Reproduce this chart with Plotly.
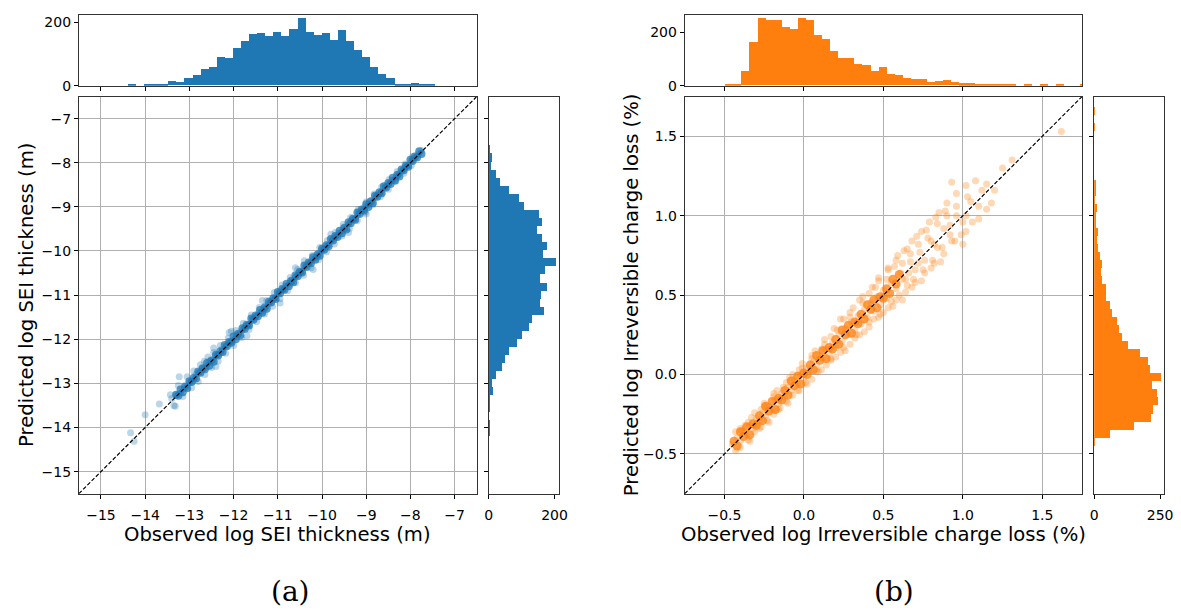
import plotly.graph_objects as go

W, H = 1181, 613
BLUE = '#1f77b4'
ORANGE = '#ff7f0e'

# ---------------- data: panel (a) SEI thickness ----------------
# dense core of the cloud
core_obs_a = [-13.30, -13.25, -13.20, -13.15, -13.10, -13.05, -13.00, -12.95, -12.90, -12.85,
              -12.80, -12.75, -12.70, -12.65, -12.60, -12.55, -12.50, -12.45, -12.40, -12.35,
              -12.30, -12.25, -12.20, -12.15, -12.10, -12.05, -12.00, -11.95, -11.90, -11.85,
              -11.80, -11.75, -11.70, -11.65, -11.60, -11.55, -11.50, -11.45, -11.40, -11.35,
              -11.30, -11.25, -11.20, -11.15, -11.10, -11.05, -11.00, -10.95, -10.90, -10.85,
              -10.80, -10.75, -10.70, -10.65, -10.60, -10.55, -10.50, -10.45, -10.40, -10.35,
              -10.30, -10.25, -10.20, -10.15, -10.10, -10.05, -10.00, -9.95, -9.90, -9.85,
              -9.80, -9.75, -9.70, -9.65, -9.60, -9.55, -9.50, -9.45, -9.40, -9.35,
              -9.30, -9.25, -9.20, -9.15, -9.10, -9.05, -9.00, -8.95, -8.90, -8.85,
              -8.80, -8.75, -8.70, -8.65, -8.60, -8.55, -8.50, -8.45, -8.40, -8.35,
              -8.30, -8.25, -8.20, -8.15, -8.10, -8.05, -8.00, -7.95, -7.90, -7.85,
              -7.80, -7.75]
core_pred_a = [-13.26, -13.28, -13.14, -13.20, -13.08, -13.11, -12.95, -12.97, -12.87, -12.89,
               -12.73, -12.76, -12.66, -12.68, -12.54, -12.60, -12.48, -12.51, -12.35, -12.37,
               -12.27, -12.29, -12.13, -12.16, -12.06, -12.08, -11.94, -12.00, -11.88, -11.91,
               -11.75, -11.77, -11.67, -11.69, -11.53, -11.56, -11.46, -11.48, -11.34, -11.40,
               -11.28, -11.31, -11.15, -11.17, -11.07, -11.09, -10.93, -10.96, -10.86, -10.88,
               -10.74, -10.80, -10.68, -10.71, -10.55, -10.57, -10.47, -10.49, -10.33, -10.36,
               -10.26, -10.28, -10.14, -10.20, -10.08, -10.11, -9.95, -9.97, -9.87, -9.89,
               -9.73, -9.76, -9.66, -9.68, -9.54, -9.60, -9.48, -9.51, -9.35, -9.37,
               -9.27, -9.29, -9.13, -9.16, -9.06, -9.08, -8.94, -9.00, -8.88, -8.91,
               -8.75, -8.77, -8.67, -8.69, -8.53, -8.56, -8.46, -8.48, -8.34, -8.40,
               -8.28, -8.31, -8.15, -8.17, -8.07, -8.09, -7.93, -7.96, -7.86, -7.88,
               -7.74, -7.80]
# wider halo and outliers
obs_a = [-13.40, -13.30, -13.20, -13.10, -13.00, -12.92, -12.85, -12.78, -12.70, -12.62,
         -12.55, -12.48, -12.40, -12.33, -12.26, -12.18, -12.10, -12.03, -11.95, -11.88,
         -11.80, -11.73, -11.66, -11.58, -11.50, -11.43, -11.36, -11.28, -11.20, -11.13,
         -11.05, -10.98, -10.90, -10.83, -10.75, -10.68, -10.60, -10.53, -10.45, -10.38,
         -10.30, -10.23, -10.15, -10.08, -10.00, -9.93, -9.85, -9.78, -9.70, -9.63,
         -9.55, -9.48, -9.40, -9.33, -9.25, -9.18, -9.10, -9.03, -8.95, -8.88,
         -8.80, -8.72, -8.65, -8.57, -8.50, -8.42, -8.35, -8.27, -8.20, -8.12,
         -8.05, -7.97, -7.90, -7.82, -7.75,
         -13.25, -13.05, -12.90, -12.75, -12.58, -12.45, -12.30, -12.12, -11.95, -11.78,
         -11.60, -11.42, -11.25, -11.08, -10.90, -10.72, -10.55, -10.40, -10.22, -10.05,
         -9.88, -9.70, -9.52, -9.35, -9.18, -9.00, -8.82, -8.65, -8.48, -8.30, -8.12, -7.95,
         -13.35, -13.15, -12.95, -12.80, -12.65, -12.50, -12.35, -12.18, -12.00, -11.82,
         -11.65, -11.48, -11.30, -11.12, -10.95, -10.78, -10.60, -10.42, -10.25, -10.08,
         -9.90, -9.72, -9.55, -9.38, -9.20, -9.02, -8.85, -8.68, -8.50, -8.33, -8.15, -7.98,
         -14.33, -14.25, -14.00, -13.68, -13.43, -13.32, -13.23, -12.66, -12.45, -12.10,
         -12.40, -12.05, -11.70, -11.35, -10.95, -10.60, -10.20, -9.80, -9.40, -9.00]
pred_a = [-13.35, -13.26, -13.22, -13.05, -12.98, -12.95, -12.80, -12.76, -12.66, -12.64,
          -12.50, -12.47, -12.36, -12.35, -12.22, -12.17, -12.07, -12.04, -11.92, -11.86,
          -11.79, -11.70, -11.67, -11.55, -11.49, -11.40, -11.37, -11.25, -11.19, -11.10,
          -11.06, -10.95, -10.89, -10.80, -10.76, -10.65, -10.59, -10.50, -10.46, -10.35,
          -10.29, -10.20, -10.16, -10.05, -9.99, -9.90, -9.86, -9.75, -9.69, -9.60,
          -9.56, -9.45, -9.39, -9.30, -9.26, -9.15, -9.09, -9.00, -8.96, -8.85,
          -8.79, -8.70, -8.66, -8.55, -8.49, -8.40, -8.36, -8.25, -8.19, -8.10,
          -8.06, -7.95, -7.89, -7.80, -7.72,
          -13.05, -12.85, -12.72, -12.58, -12.40, -12.30, -12.14, -11.97, -11.80, -11.64,
          -11.45, -11.28, -11.12, -10.94, -10.77, -10.60, -10.42, -10.22, -10.10, -9.92,
          -9.76, -9.58, -9.40, -9.24, -9.06, -8.89, -8.71, -8.55, -8.38, -8.20, -8.03, -7.86,
          -13.50, -13.30, -13.10, -12.96, -12.80, -12.64, -12.50, -12.32, -12.14, -11.96,
          -11.78, -11.60, -11.43, -11.25, -11.08, -10.90, -10.72, -10.55, -10.38, -10.20,
          -10.02, -9.84, -9.66, -9.49, -9.31, -9.12, -8.95, -8.77, -8.60, -8.42, -8.24, -8.06,
          -14.12, -14.31, -13.71, -13.47, -13.26, -13.52, -12.85, -12.50, -12.20, -11.85,
          -12.62, -11.82, -11.92, -11.12, -11.18, -10.38, -10.42, -9.62, -9.58, -9.16]

# histogram of observed (a): first bin edge, bin width, counts
obs_a_start, a_width = -14.395, 0.1828
obs_a_counts = [1, 0, 1, 1, 1, 12, 9, 22, 33, 52, 56, 90, 87, 118, 139, 162, 165, 155, 168, 155,
                177, 211, 168, 160, 165, 143, 174, 140, 112, 90, 59, 34, 22, 2, 2, 6, 2, 2]
# histogram of predicted (a)
pred_a_start = -14.178
pred_a_counts = [2, 2, 0, 1, 1, 12, 9, 21, 39, 48, 60, 84, 99, 120, 129, 168, 156, 159, 177, 156,
                 171, 204, 165, 177, 162, 146, 162, 153, 105, 90, 60, 33, 21, 4, 9, 3]

# ---------------- data: panel (b) irreversible charge loss ----------------
core_obs_b = [-0.44, -0.42, -0.40, -0.38, -0.36, -0.34, -0.32, -0.30, -0.28, -0.26,
              -0.24, -0.22, -0.20, -0.18, -0.16, -0.14, -0.12, -0.10, -0.08, -0.06,
              -0.04, -0.02, 0.00, 0.02, 0.04, 0.06, 0.08, 0.10, 0.12, 0.14,
              0.16, 0.18, 0.20, 0.22, 0.24, 0.26, 0.28, 0.30, 0.32, 0.34,
              0.36, 0.38, 0.40, 0.42, 0.44, 0.46, 0.48, 0.50, 0.52, 0.54,
              0.56, 0.58, 0.60]
core_pred_b = [-0.42, -0.45, -0.36, -0.39, -0.33, -0.38, -0.31, -0.32, -0.26, -0.29,
               -0.20, -0.23, -0.17, -0.22, -0.15, -0.16, -0.10, -0.13, -0.04, -0.07,
               -0.01, -0.06, 0.01, 0.00, 0.06, 0.03, 0.12, 0.09, 0.15, 0.10,
               0.17, 0.16, 0.22, 0.19, 0.28, 0.25, 0.31, 0.26, 0.33, 0.32,
               0.38, 0.35, 0.44, 0.41, 0.47, 0.42, 0.49, 0.48, 0.54, 0.51,
               0.60, 0.57, 0.63]
obs_b = [-0.45, -0.42, -0.40, -0.38, -0.36, -0.34, -0.32, -0.30, -0.28, -0.26,
         -0.24, -0.22, -0.20, -0.18, -0.16, -0.14, -0.12, -0.10, -0.08, -0.06,
         -0.04, -0.02, 0.00, 0.02, 0.04, 0.06, 0.08, 0.10, 0.12, 0.14,
         0.16, 0.18, 0.20, 0.22, 0.24, 0.26, 0.28, 0.30, 0.32, 0.34,
         0.36, 0.38, 0.40, 0.42, 0.44, 0.46, 0.48, 0.50, 0.52, 0.55,
         0.58, 0.61, 0.64, 0.67, 0.70, 0.73, 0.76, 0.80, 0.84, 0.88,
         0.92, 0.96, 1.00, 1.05, 1.10, 1.15, 1.20,
         -0.40, -0.33, -0.25, -0.17, -0.09, -0.01, 0.07, 0.13, 0.19, 0.25,
         0.31, 0.37, 0.43, 0.47, 0.53, 0.58, 0.63, 0.68, 0.74, 0.79,
         0.85, 0.90, 0.96, 1.02, 0.93, 1.08, 1.31, 1.62, 1.25,
         -0.43, -0.35, -0.27, -0.19, -0.11, -0.03, 0.05, 0.11, 0.17, 0.23,
         0.29, 0.35, 0.41, 0.47, 0.53, 0.58, 0.64, 0.70, 0.76, 0.82,
         0.88, 0.95, 1.02, 1.10, 1.18, 1.00,
         -0.43, -0.40, -0.37, -0.34, -0.31, -0.28, -0.25, -0.22, -0.19, -0.16,
         -0.13, -0.10, -0.07, -0.04, -0.01, 0.02, 0.05, 0.08, 0.11, 0.14,
         0.17, 0.20, 0.23, 0.26, 0.29, 0.32, 0.35, 0.38, 0.41, 0.44,
         0.47, 0.50, 0.53, 0.56, 0.59, 0.62, 0.65, 0.68, 0.71, 0.74,
         0.77, 0.80, 0.83, 0.86, 0.89,
         0.45, 0.48, 0.52, 0.55, 0.57, 0.60, 0.62, 0.65, 0.67, 0.69,
         0.72, 0.75, 0.78, 0.81, 0.84, 0.87, 0.90, 0.93, 0.96, 0.99,
         1.03, 1.06, 1.12, 1.15, 0.72, 0.82, 0.92, 1.02, 0.66, 0.62,
         -0.39, -0.35, -0.31, -0.27, -0.23, -0.19, -0.15, -0.11, -0.07, -0.03,
         0.01, 0.05, 0.09, 0.13, 0.17, 0.21, 0.25, 0.29, 0.33, 0.37, 0.41]
pred_b = [-0.44, -0.40, -0.42, -0.36, -0.38, -0.32, -0.34, -0.28, -0.30, -0.24,
          -0.26, -0.20, -0.22, -0.16, -0.18, -0.12, -0.14, -0.08, -0.10, -0.04,
          -0.06, 0.00, -0.02, 0.04, 0.02, 0.08, 0.06, 0.12, 0.10, 0.16,
          0.13, 0.20, 0.17, 0.25, 0.21, 0.29, 0.25, 0.33, 0.28, 0.37,
          0.32, 0.41, 0.36, 0.45, 0.40, 0.49, 0.44, 0.53, 0.48, 0.58,
          0.54, 0.64, 0.60, 0.71, 0.66, 0.77, 0.72, 0.84, 0.80, 0.92,
          0.88, 1.00, 0.96, 1.09, 1.06, 1.20, 1.16,
          -0.34, -0.27, -0.18, -0.10, -0.02, 0.07, 0.15, 0.22, 0.29, 0.35,
          0.42, 0.49, 0.55, 0.61, 0.66, 0.72, 0.78, 0.84, 0.90, 0.96,
          1.02, 1.08, 1.14, 1.19, 1.21, 1.22, 1.35, 1.53, 1.30,
          -0.48, -0.41, -0.33, -0.25, -0.17, -0.10, -0.03, 0.03, 0.09, 0.14,
          0.19, 0.25, 0.30, 0.36, 0.42, 0.47, 0.52, 0.58, 0.64, 0.70,
          0.76, 0.84, 0.90, 0.98, 1.08, 0.82,
          -0.36, -0.46, -0.32, -0.42, -0.24, -0.34, -0.20, -0.30, -0.12, -0.22,
          -0.08, -0.18, 0.00, -0.10, 0.04, -0.06, 0.12, 0.02, 0.16, 0.06,
          0.24, 0.11, 0.35, 0.15, 0.39, 0.23, 0.47, 0.27, 0.51, 0.35,
          0.59, 0.39, 0.67, 0.43, 0.75, 0.47, 0.79, 0.55, 0.87, 0.59,
          0.91, 0.67, 0.99, 0.71, 1.03,
          0.55, 0.38, 0.60, 0.46, 0.68, 0.50, 0.70, 0.56, 0.76, 0.60,
          0.82, 0.66, 0.86, 0.72, 0.95, 0.80, 1.00, 0.84, 1.06, 0.88,
          1.12, 0.96, 1.16, 1.04, 0.70, 0.82, 0.94, 1.00, 0.64, 0.60,
          -0.35, -0.30, -0.36, -0.22, -0.29, -0.14, -0.21, -0.05, -0.13, 0.03,
          -0.05, 0.10, 0.02, 0.19, 0.10, 0.28, 0.17, 0.36, 0.25, 0.45, 0.33]

obs_b_start, b_width = -0.497, 0.0508
obs_b_counts = [1, 2, 52, 163, 252, 244, 247, 219, 211, 252, 247, 189, 174, 130, 104, 104, 81, 78,
                52, 70, 44, 37, 26, 22, 22, 11, 15, 19, 11, 7, 7, 4, 2, 2, 1, 1, 0, 1, 0, 1,
                0, 1, 0, 0, 1]
pred_b_start = -0.446
pred_b_counts = [1, 62, 152, 216, 224, 242, 239, 220, 254, 212, 205, 175, 130, 107, 96, 89, 70, 62,
                 47, 47, 32, 25, 32, 21, 16, 10, 16, 4, 4, 10, 1, 5, 5, 0, 0, 0, 0, 0, 0, 1, 0, 1]

range_a = [-15.5, -6.5]
ticks_a = [-15, -14, -13, -12, -11, -10, -9, -8, -7]
range_b = [-0.75, 1.75]
ticks_b = [-0.5, 0.0, 0.5, 1.0, 1.5]

label_a_x = 'Observed log SEI thickness (m)'
label_a_y = 'Predicted log SEI thickness (m)'
label_b_x = 'Observed log Irreversible charge loss (%)'
label_b_y = 'Predicted log Irreversible charge loss (%)'


def centers(start, width, counts):
    return [start + (i + 0.5) * width for i in range(len(counts))]


def dx(a, b):
    return [a / W, b / W]


def dy(top, bottom):
    return [1 - bottom / H, 1 - top / H]


FONT = 'DejaVu Sans'
TICKFONT = dict(family=FONT, size=14, color='black')


def pts(x, y, xa, ya, color, op, size=6):
    return go.Scatter(x=x, y=y, mode='markers', xaxis=xa, yaxis=ya,
                      marker=dict(color=color, size=size, opacity=op, line=dict(width=0)),
                      showlegend=False, hoverinfo='skip')


fig = go.Figure()

# panel (a)
fig.add_trace(pts(obs_a, pred_a, 'x', 'y', BLUE, 0.3, 7))
fig.add_trace(pts(core_obs_a, core_pred_a, 'x', 'y', BLUE, 0.75, 8))
fig.add_trace(go.Scatter(x=range_a, y=range_a, mode='lines', xaxis='x', yaxis='y',
                         line=dict(color='black', width=1.2, dash='4px,2px'), showlegend=False))
fig.add_trace(go.Bar(x=centers(obs_a_start, a_width, obs_a_counts), y=obs_a_counts, width=a_width,
                     xaxis='x2', yaxis='y2', marker=dict(color=BLUE, line=dict(width=0)),
                     showlegend=False))
fig.add_trace(go.Bar(y=centers(pred_a_start, a_width, pred_a_counts), x=pred_a_counts, width=a_width,
                     orientation='h', xaxis='x3', yaxis='y3',
                     marker=dict(color=BLUE, line=dict(width=0)), showlegend=False))

# panel (b)
fig.add_trace(pts(obs_b, pred_b, 'x4', 'y4', ORANGE, 0.3, 7))
fig.add_trace(pts(core_obs_b, core_pred_b, 'x4', 'y4', ORANGE, 0.75, 9))
fig.add_trace(go.Scatter(x=range_b, y=range_b, mode='lines', xaxis='x4', yaxis='y4',
                         line=dict(color='black', width=1.2, dash='4px,2px'), showlegend=False))
fig.add_trace(go.Bar(x=centers(obs_b_start, b_width, obs_b_counts), y=obs_b_counts, width=b_width,
                     xaxis='x5', yaxis='y5', marker=dict(color=ORANGE, line=dict(width=0)),
                     showlegend=False))
fig.add_trace(go.Bar(y=centers(pred_b_start, b_width, pred_b_counts), x=pred_b_counts, width=b_width,
                     orientation='h', xaxis='x6', yaxis='y6',
                     marker=dict(color=ORANGE, line=dict(width=0)), showlegend=False))

base = dict(showline=True, mirror=True, linecolor='#333333', linewidth=1,
            ticks='outside', ticklen=4, tickwidth=1, tickcolor='black',
            zeroline=False, showgrid=False, tickfont=TICKFONT, fixedrange=True)
xb = dict(base, ticklabelstandoff=5)
grid = dict(showgrid=True, gridcolor='#b0b0b0', gridwidth=1)

main_y = dy(97, 500)
top_y = dy(14.7, 86)

layout_axes = dict(
    xaxis=dict(xb, **grid, domain=dx(75.7, 478), range=range_a, tickvals=ticks_a, anchor='y'),
    yaxis=dict(base, **grid, domain=main_y, range=range_a, tickvals=ticks_a, anchor='x'),
    xaxis2=dict(base, domain=dx(75.7, 478), range=range_a, tickvals=ticks_a, showticklabels=False, anchor='y2'),
    yaxis2=dict(base, domain=top_y, range=[0, 221.5], tickvals=[0, 200], anchor='x2'),
    xaxis3=dict(xb, domain=dx(490, 561), range=[0, 213], tickvals=[0, 200], anchor='y3'),
    yaxis3=dict(base, domain=main_y, range=range_a, tickvals=ticks_a, showticklabels=False, anchor='x3'),
    xaxis4=dict(xb, **grid, domain=dx(688.3, 1090), range=range_b, tickvals=ticks_b, tickformat='.1f', anchor='y4'),
    yaxis4=dict(base, **grid, domain=main_y, range=range_b, tickvals=ticks_b, tickformat='.1f', anchor='x4'),
    xaxis5=dict(base, domain=dx(688.3, 1090), range=range_b, tickvals=ticks_b, showticklabels=False, anchor='y5'),
    yaxis5=dict(base, domain=top_y, range=[0, 264], tickvals=[0, 200], anchor='x5'),
    xaxis6=dict(xb, domain=dx(1102.3, 1172.7), range=[0, 264], tickvals=[0, 250], anchor='y6'),
    yaxis6=dict(base, domain=main_y, range=range_b, tickvals=ticks_b, showticklabels=False, anchor='x6'),
)

ann_font = dict(family=FONT, size=19.6, color='black')
serif = dict(family='DejaVu Serif', size=28, color='black')
annotations = [
    dict(text=label_a_x, x=276.9 / W, y=1 - 541 / H, xref='paper', yref='paper',
         showarrow=False, font=ann_font, xanchor='center', yanchor='middle'),
    dict(text=label_a_y, x=22 / W, y=1 - 298.5 / H, xref='paper', yref='paper', textangle=-90,
         showarrow=False, font=ann_font, xanchor='center', yanchor='middle'),
    dict(text=label_b_x, x=889 / W, y=1 - 541 / H, xref='paper', yref='paper',
         showarrow=False, font=ann_font, xanchor='center', yanchor='middle'),
    dict(text=label_b_y, x=634 / W, y=1 - 298.5 / H, xref='paper', yref='paper', textangle=-90,
         showarrow=False, font=ann_font, xanchor='center', yanchor='middle'),
    dict(text='(a)', x=290 / W, y=1 - 599 / H, xref='paper', yref='paper',
         showarrow=False, font=serif, xanchor='center', yanchor='middle'),
    dict(text='(b)', x=900 / W, y=1 - 599 / H, xref='paper', yref='paper',
         showarrow=False, font=serif, xanchor='center', yanchor='middle'),
]

fig.update_layout(
    width=W, height=H,
    margin=dict(l=0, r=0, t=0, b=0),
    paper_bgcolor='white', plot_bgcolor='white',
    bargap=0, showlegend=False,
    annotations=annotations,
    **layout_axes,
)

fig.write_html('out.html', config={'displayModeBar': False})
